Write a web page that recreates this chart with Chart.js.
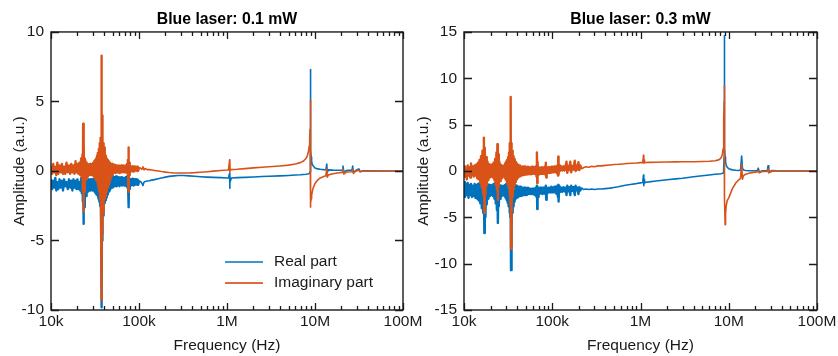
<!DOCTYPE html>
<html>
<head>
<meta charset="utf-8">
<script src="https://cdn.jsdelivr.net/npm/chart.js@4/dist/chart.umd.min.js"></script>
<style>
  html, body { margin: 0; padding: 0; background: #fff; }
  #wrap { position: relative; width: 838px; height: 356px; overflow: hidden; background: #fff; }
  canvas { position: absolute; top: 0; }
  #cA { left: 0; }
  #cB { left: 410px; }
</style>
</head>
<body>
<div id="wrap">
  <canvas id="cA" width="440" height="356"></canvas>
  <canvas id="cB" width="428" height="356"></canvas>
</div>
<script>
// ---------- tick labels ----------
const xTickValues = [1e4, 1e5, 1e6, 1e7, 1e8];
const xTickLabels = ['10k', '100k', '1M', '10M', '100M'];
const yTicksA = [-10, -5, 0, 5, 10];
const yTicksB = [-15, -10, -5, 0, 5, 10, 15];
const titles = ['Blue laser: 0.1 mW', 'Blue laser: 0.3 mW'];
const seriesNames = ['Real part', 'Imaginary part'];

// ---------- panel A: 0.1 mW ----------
const freqA = [
  10000,10300,10600,10900,11200,11500,11800,12100,12500,12900,13300,13700,14100,14500,15000,15500,16000,16500,17000,17500,18000,18500,19000,19500,20000,20500,21000,21500,22000,22400,
  22800,23000,23200,23400,23600,23900,24200,
  24600,25000,25400,25800,26200,26600,27000,27400,27800,28200,28600,29000,29400,29800,30200,30600,31000,31400,31800,32200,32600,33000,33400,33800,34200,34600,35000,35400,35800,36200,36600,37000,37300,
  37500,37700,37900,38100,38300,38600,39000,
  39400,39800,40200,40600,41000,41500,42000,42500,43000,43600,44200,44800,45400,46000,46700,47400,48100,48800,49500,50200,
  51000,52000,53000,54000,55000,56000,57000,58000,59000,60000,61000,62000,63000,64000,65000,66000,67000,68000,69000,70000,71000,72000,73000,74000,
  74800,75500,76000,76500,77200,78000,
  79000,80500,82000,83500,85000,86500,88000,89500,91000,92500,94000,95500,97000,98500,100000,
  104000,108000,111000,114000,118000,124000,130000,140000,150000,165000,180000,200000,220000,250000,280000,320000,370000,430000,500000,600000,700000,850000,1000000,
  1040000,1070000,1075000,1080000,1085000,1120000,
  1300000,1600000,2000000,2500000,3000000,4000000,5000000,6000000,6800000,7400000,7900000,8200000,8450000,8600000,8700000,8780000,8830000,8860000,8880000,8900000,
  8920000,8950000,8990000,9050000,9150000,9300000,9500000,10000000,10700000,11500000,12500000,13300000,13600000,13800000,14200000,16000000,18000000,20300000,20800000,21200000,
  23000000,26300000,26800000,27300000,29000000,31500000,32500000,35000000,45000000,60000000,100000000
];
const realA = [
  -0.6,-1.3,-0.7,-1.2,-0.5,-1.4,-0.8,-1.3,-0.6,-1.2,-0.7,-1.4,-0.6,-1.1,-0.8,-1.3,-0.6,-1.2,-0.7,-1.4,-0.6,-1.2,-0.7,-1.3,-0.6,-1.3,-0.8,-1.4,-0.5,-1.6,
  -0.4,-2.2,-0.3,-3.8,-0.8,-2.6,-0.6,
  -0.5,-1.8,-0.6,-1.5,-0.7,-1.4,-0.6,-1.3,-0.7,-1.4,-0.6,-1.3,-0.7,-1.4,-0.6,-1.4,-0.6,-1.5,-0.5,-1.6,-0.5,-1.7,-0.4,-1.8,-0.3,-2.0,-0.2,-2.2,-0.1,-2.5,0.0,-2.8,-0.2,
  -0.5,0.2,-9.8,-0.3,-5.0,-0.5,-3.2,
  -0.3,-2.6,-0.4,-2.3,-0.4,-2.1,-0.5,-1.9,-0.5,-1.7,-0.5,-1.5,-0.5,-1.4,-0.5,-1.3,-0.5,-1.2,-0.5,-1.2,
  -0.4,-1.1,-0.45,-1.05,-0.4,-1.1,-0.5,-1.0,-0.45,-1.1,-0.5,-1.0,-0.45,-1.05,-0.5,-1.0,-0.5,-1.05,-0.5,-1.0,-0.45,-1.1,-0.4,-1.2,
  -0.5,-1.6,-0.3,-2.6,-0.6,-1.3,
  -0.55,-1.05,-0.6,-1.0,-0.55,-1.05,-0.6,-1.0,-0.6,-0.95,-0.6,-1.0,-0.65,-0.95,-0.7,
  -0.75,-0.88,-1.05,-0.8,-0.75,-0.72,-0.7,-0.66,-0.62,-0.56,-0.5,-0.44,-0.39,-0.35,-0.33,-0.33,-0.35,-0.38,-0.41,-0.44,-0.46,-0.48,-0.5,
  -0.5,-0.17,-1.25,-0.3,-0.8,-0.5,
  -0.48,-0.46,-0.43,-0.40,-0.38,-0.35,-0.32,-0.29,-0.27,-0.25,-0.24,-0.22,-0.20,-0.17,-0.12,-0.05,0.10,0.40,1.50,7.30,
  4.50,2.50,1.50,1.00,0.70,0.50,0.38,0.22,0.15,0.12,0.10,0.09,0.50,-0.10,0.08,0.06,0.05,0.05,0.35,-0.05,
  0.04,0.04,0.35,-0.08,0.03,0.15,-0.05,0.02,0.01,0.00,0.00
];
const imagA = [
  0.4,-0.2,0.5,-0.1,0.3,-0.3,0.6,-0.2,0.4,-0.1,0.5,-0.2,0.3,-0.2,0.6,-0.1,0.4,-0.2,0.5,-0.1,0.4,-0.2,0.7,-0.1,0.5,-0.2,0.6,-0.3,0.9,-0.5,
  1.2,-1.4,3.4,-2.9,2.2,-1.5,0.9,
  0.7,-0.6,0.6,-0.4,0.5,-0.3,0.4,-0.3,0.5,-0.2,0.4,-0.3,0.5,-0.2,0.6,-0.4,0.7,-0.5,0.8,-0.6,0.9,-0.7,1.1,-0.9,1.3,-1.2,1.6,-1.5,2.0,-2.0,2.4,-2.6,3.5,
  -3.0,8.3,-9.3,4.0,-4.5,2.6,-3.0,
  2.0,-2.4,1.7,-2.0,1.4,-1.8,1.1,-1.5,0.9,-1.2,0.8,-1.0,0.7,-0.8,0.6,-0.6,0.5,-0.4,0.5,-0.3,
  0.4,-0.1,0.45,-0.15,0.4,-0.1,0.35,-0.1,0.4,-0.15,0.35,-0.1,0.4,-0.1,0.35,-0.05,0.4,-0.1,0.35,-0.05,0.4,-0.1,0.5,-0.2,
  0.8,-1.0,1.7,-1.5,0.6,-0.3,
  0.35,-0.05,0.3,0.0,0.35,-0.05,0.3,0.0,0.3,0.05,0.3,0.0,0.3,0.05,0.25,
  0.2,0.12,0.3,0.08,0.18,0.1,0.1,0.07,0.04,0.0,-0.04,-0.08,-0.11,-0.14,-0.15,-0.15,-0.14,-0.12,-0.09,-0.05,-0.01,0.04,0.07,
  0.08,0.8,-0.1,0.6,0.05,0.1,
  0.12,0.17,0.22,0.27,0.30,0.36,0.42,0.50,0.60,0.72,0.90,1.10,1.45,1.80,2.30,3.00,4.00,5.10,4.20,2.00,
  -0.50,-2.60,-2.30,-2.00,-1.75,-1.50,-1.25,-0.90,-0.65,-0.50,-0.40,-0.35,0.20,-0.45,-0.28,-0.20,-0.14,-0.10,0.12,-0.22,
  -0.07,-0.05,0.12,-0.18,-0.02,0.05,-0.05,0.00,0.00,0.00,0.00
];

// ---------- panel B: 0.3 mW ----------
const freqB = [
  10000,10250,10500,10750,11000,11250,11500,11750,12000,12300,12600,12900,13200,13500,13800,14100,14400,14700,15000,15300,15600,15900,16200,
  16500,16800,17000,17200,17500,17800,18100,
  18500,18900,19300,19700,20100,20500,20900,21300,21700,22100,22500,22900,23300,
  23600,23900,24200,24500,24800,
  25200,25600,26000,26400,26800,27200,27600,28000,28400,28800,29200,29600,30000,30400,30800,31200,31600,32000,32400,32800,33200,
  33500,33800,34100,34400,34800,35200,
  35600,36000,36500,37000,37500,38000,38600,39200,39800,40500,41200,42000,43000,44000,45000,46000,47000,48000,49000,50000,51500,53000,54500,56000,57500,59000,60500,62000,63500,65000,
  66200,67000,67600,68200,69000,
  70000,71500,73000,74500,76000,77500,79000,80500,82000,
  83500,84500,85500,86500,
  88000,90000,92000,94000,96000,98000,100000,102000,104000,106000,108000,110000,112000,
  114500,116000,117000,118000,119500,
  122000,126000,130000,134000,138000,142000,145000,148000,152000,156000,160000,164000,168000,172000,176000,180000,184000,188000,193000,198000,203000,208000,214000,
  225000,240000,260000,280000,300000,330000,360000,400000,450000,500000,560000,630000,700000,800000,900000,1000000,
  1060000,1080000,1090000,1100000,1110000,1140000,
  1250000,1500000,2000000,2500000,3000000,4000000,5000000,6000000,7000000,7700000,
  8100000,8350000,8500000,8620000,8700000,8770000,8820000,8860000,8890000,8920000,
  8950000,9020000,9100000,9200000,9350000,9600000,10000000,10300000,11000000,12000000,
  13000000,13600000,14000000,14300000,14700000,15500000,17000000,19000000,21000000,21600000,
  22200000,24000000,27400000,27900000,28400000,31000000,35000000,45000000,60000000,100000000
];
const realB = [
  -1.2,-2.8,-1.4,-2.6,-1.3,-2.9,-1.5,-2.6,-1.4,-2.8,-1.6,-2.7,-1.4,-2.9,-1.5,-3.0,-1.4,-3.2,-1.3,-3.5,-1.2,-4.0,-1.3,
  -4.5,-1.2,-6.7,-1.5,-5.0,-1.6,-3.6,
  -1.4,-3.0,-1.5,-2.7,-1.6,-2.6,-1.5,-2.7,-1.4,-3.0,-1.3,-3.5,-1.3,
  -4.2,-1.3,-5.6,-1.5,-3.8,
  -1.5,-3.0,-1.6,-2.7,-1.6,-2.6,-1.7,-2.6,-1.6,-2.7,-1.5,-2.9,-1.4,-3.1,-1.3,-3.4,-1.2,-3.8,-1.1,-4.5,-1.0,
  -5.0,-1.0,-10.7,-1.2,-6.0,-1.3,
  -4.5,-1.4,-3.8,-1.5,-3.3,-1.6,-3.0,-1.6,-2.9,-1.7,-2.8,-1.7,-2.7,-1.7,-2.7,-1.8,-2.6,-1.8,-2.6,-1.8,-2.6,-1.8,-2.5,-1.9,-2.5,-1.9,-2.5,-1.9,-2.6,-1.8,
  -2.8,-1.6,-4.1,-1.7,-2.8,
  -1.8,-2.5,-1.8,-2.4,-1.8,-2.5,-1.8,-2.4,-1.8,
  -2.5,-1.6,-3.1,-1.9,
  -2.4,-1.8,-2.3,-1.8,-2.3,-1.7,-2.3,-1.8,-2.3,-1.7,-2.3,-1.7,-2.5,
  -1.6,-2.8,-1.5,-3.3,-1.7,
  -2.3,-1.8,-2.25,-1.75,-2.2,-1.8,-2.6,-1.6,-2.2,-1.75,-2.6,-1.6,-2.15,-1.75,-2.1,-2.6,-1.6,-2.1,-1.8,-2.5,-1.75,-2.1,-1.8,
  -2.0,-1.95,-2.0,-1.95,-2.0,-1.95,-1.95,-1.9,-1.85,-1.78,-1.7,-1.6,-1.52,-1.43,-1.36,-1.28,
  -1.25,-0.43,-1.6,-0.9,-1.3,-1.22,
  -1.18,-1.08,-0.95,-0.85,-0.78,-0.62,-0.52,-0.43,-0.36,-0.32,
  -0.3,-0.27,-0.24,-0.2,-0.15,-0.05,0.3,1.5,5.0,14.6,
  6.0,2.5,1.5,1.0,0.65,0.4,0.25,0.2,0.12,0.08,
  0.06,0.1,1.6,0.3,0.1,0.05,0.03,0.02,0.02,0.3,
  -0.1,0.02,0.02,0.57,-0.1,0.05,0.01,0,0,0
];
const imagB = [
  0.5,-0.6,0.3,-0.9,0.6,-0.5,0.4,-0.7,0.8,-0.4,0.5,-0.6,0.6,-0.5,0.7,-0.8,0.9,-0.9,1.2,-1.3,1.6,-1.8,2.2,
  -2.5,3.6,-4.5,2.5,-2.5,1.5,-1.5,
  1.0,-1.0,0.7,-0.7,0.6,-0.6,0.7,-0.7,0.9,-1.0,1.3,-1.5,2.0,
  -2.0,2.9,-3.1,1.8,-1.6,
  1.0,-1.1,0.7,-0.8,0.6,-0.6,0.5,-0.6,0.6,-0.7,0.8,-0.9,1.0,-1.1,1.2,-1.4,1.5,-1.8,2.0,-2.5,3.0,
  -3.5,8.0,-8.4,3.0,-3.5,2.2,
  -2.8,1.6,-2.0,1.3,-1.5,1.0,-1.2,0.8,-0.9,0.7,-0.7,0.6,-0.6,0.5,-0.5,0.5,-0.45,0.5,-0.4,0.45,-0.4,0.45,-0.35,0.4,-0.35,0.45,-0.3,0.4,-0.3,0.5,
  -0.6,2.0,-1.3,1.0,-0.4,
  0.4,-0.3,0.35,-0.3,0.4,-0.3,0.35,-0.3,0.45,
  -0.4,0.9,-0.7,0.3,
  -0.25,0.4,-0.2,0.4,-0.2,0.45,-0.15,0.45,-0.15,0.5,-0.1,0.5,-0.2,
  0.6,-0.5,1.55,-0.4,0.6,
  0.0,0.5,0.05,0.5,0.05,0.55,1.0,-0.2,0.55,0.1,1.0,-0.15,0.55,0.15,0.6,1.1,0.0,0.6,0.15,0.95,0.1,0.6,0.2,
  0.35,0.45,0.4,0.5,0.45,0.55,0.55,0.6,0.65,0.7,0.72,0.76,0.8,0.83,0.86,0.9,
  0.9,1.7,0.85,1.2,0.9,0.92,
  0.93,0.95,0.97,0.98,0.99,1.0,1.02,1.05,1.1,1.2,
  1.35,1.6,1.9,2.4,3.0,4.0,5.5,7.5,9.2,6.0,
  2.0,-3.0,-5.8,-4.6,-3.8,-3.2,-2.9,-2.6,-1.9,-1.3,
  -0.95,-0.8,0.75,-0.9,-0.5,-0.35,-0.25,-0.15,-0.1,0.05,
  -0.2,-0.05,-0.05,0.2,-0.2,-0.02,0,0,0,0
];

// ---------- styling ----------
const BLUE = '#0072BD';
const ORANGE = '#D95319';
const INK = '#1a1a1a';
const FONT = "'Liberation Sans', Arial, Helvetica, sans-serif";
Chart.defaults.font.family = FONT;
Chart.defaults.color = INK;

const toPts = (xs, ys) => xs.map((x, i) => ({ x: x, y: ys[i] }));

// frame + inward tick marks drawn from the library's scales
const framePlugin = {
  id: 'frameTicks',
  afterDatasetsDraw(chart, args, opts) {
    const { ctx, chartArea: a, scales: { x, y } } = chart;
    ctx.save();
    ctx.strokeStyle = INK;
    ctx.lineWidth = 1.3;
    ctx.beginPath();
    for (let d = 1e4; d < 1e8; d *= 10) {
      for (let k = 2; k <= 9; k++) {
        const px = Math.round(x.getPixelForValue(k * d)) + 0.5;
        ctx.moveTo(px, a.bottom); ctx.lineTo(px, a.bottom - 4);
        ctx.moveTo(px, a.top); ctx.lineTo(px, a.top + 4);
      }
    }
    ctx.stroke();
    ctx.beginPath();
    xTickValues.forEach(v => {
      const px = Math.round(x.getPixelForValue(v)) + 0.5;
      ctx.moveTo(px, a.bottom); ctx.lineTo(px, a.bottom - 7);
      ctx.moveTo(px, a.top); ctx.lineTo(px, a.top + 7);
    });
    opts.yTicks.forEach(v => {
      const py = Math.round(y.getPixelForValue(v)) + 0.5;
      ctx.moveTo(a.left, py); ctx.lineTo(a.left + 8, py);
      ctx.moveTo(a.right, py); ctx.lineTo(a.right - 8, py);
    });
    ctx.stroke();
    ctx.lineWidth = 1.4;
    ctx.strokeRect(a.left, a.top, a.right - a.left, a.bottom - a.top);

    if (opts.legend) {
      const L = opts.legend;
      ctx.font = '15.5px ' + FONT;
      ctx.textBaseline = 'middle';
      ctx.textAlign = 'left';
      ctx.fillStyle = INK;
      ctx.lineWidth = 1.6;
      ctx.strokeStyle = BLUE;
      ctx.beginPath(); ctx.moveTo(L.x0, L.y0); ctx.lineTo(L.x1, L.y0); ctx.stroke();
      ctx.fillText(seriesNames[0], L.tx, L.y0);
      ctx.lineWidth = 2.2;
      ctx.strokeStyle = '#DE6A3E';
      ctx.beginPath(); ctx.moveTo(L.x0, L.y1); ctx.lineTo(L.x1, L.y1); ctx.stroke();
      ctx.fillText(seriesNames[1], L.tx, L.y1);
    }
    ctx.restore();
  }
};

function makeChart(canvasId, freq, real, imag, yTicks, title, o) {
  // the dense noisy low-frequency part of the spectrum is stroked wider
  const seg = { borderWidth: c => (freq[c.p1DataIndex] <= o.noiseEnd ? 2.4 : 1.6) };
  return new Chart(document.getElementById(canvasId), {
    type: 'line',
    data: {
      datasets: [
        { label: seriesNames[0], data: toPts(freq, real), borderColor: BLUE, borderWidth: 1.6, order: 2, segment: seg },
        { label: seriesNames[1], data: toPts(freq, imag), borderColor: ORANGE, borderWidth: 1.6, order: 1, segment: seg }
      ]
    },
    options: {
      responsive: false,
      animation: false,
      devicePixelRatio: 1,
      layout: { padding: { left: 0, right: o.padRight, top: 0, bottom: 0 } },
      elements: { point: { radius: 0 }, line: { tension: 0, borderJoinStyle: 'round' } },
      plugins: {
        legend: { display: false },
        tooltip: { enabled: false },
        title: {
          display: true, text: title, fullSize: false, color: '#000',
          font: { size: 15.8, weight: 'bold' }, padding: { top: 10, bottom: 3 }
        },
        frameTicks: { yTicks: yTicks, legend: o.legend }
      },
      scales: {
        x: {
          type: 'logarithmic', min: xTickValues[0], max: xTickValues[xTickValues.length - 1],
          afterBuildTicks: s => { s.ticks = xTickValues.map(v => ({ value: v, major: true })); },
          afterFit: s => { s.height = 46; s.paddingLeft = 0; s.paddingRight = 0; s.paddingTop = 0; s.paddingBottom = 0; },
          grid: { display: false, drawTicks: false },
          border: { display: false },
          ticks: {
            autoSkip: false, maxRotation: 0, minRotation: 0, padding: 2, color: INK,
            font: { size: 15.5 },
            callback: v => { const i = xTickValues.indexOf(v); return i >= 0 ? xTickLabels[i] : ''; }
          },
          title: { display: true, text: 'Frequency (Hz)', color: INK, font: { size: 15.5 }, padding: { top: 0, bottom: 1 } }
        },
        y: {
          type: 'linear', min: yTicks[0], max: yTicks[yTicks.length - 1],
          afterBuildTicks: s => { s.ticks = yTicks.map(v => ({ value: v })); },
          afterFit: s => { s.width = o.yWidth; s.paddingLeft = 0; s.paddingRight = 0; s.paddingTop = 0; s.paddingBottom = 0; },
          grid: { display: false, drawTicks: false },
          border: { display: false },
          ticks: { padding: 7, color: INK, font: { size: 15.5 } },
          title: { display: true, text: 'Amplitude (a.u.)', color: INK, font: { size: 15.5 }, padding: { top: o.yTitlePad, bottom: 0 } }
        }
      }
    },
    plugins: [framePlugin]
  });
}

makeChart('cA', freqA, realA, imagA, yTicksA, titles[0], {
  padRight: 37, yWidth: 51, yTitlePad: 10, noiseEnd: 100000,
  legend: { x0: 225, x1: 263, tx: 274, y0: 262, y1: 283 }
});
makeChart('cB', freqB, realB, imagB, yTicksB, titles[1], {
  padRight: 21, yWidth: 54, yTitlePad: 4, noiseEnd: 214000, legend: null
});
</script>
</body>
</html>
